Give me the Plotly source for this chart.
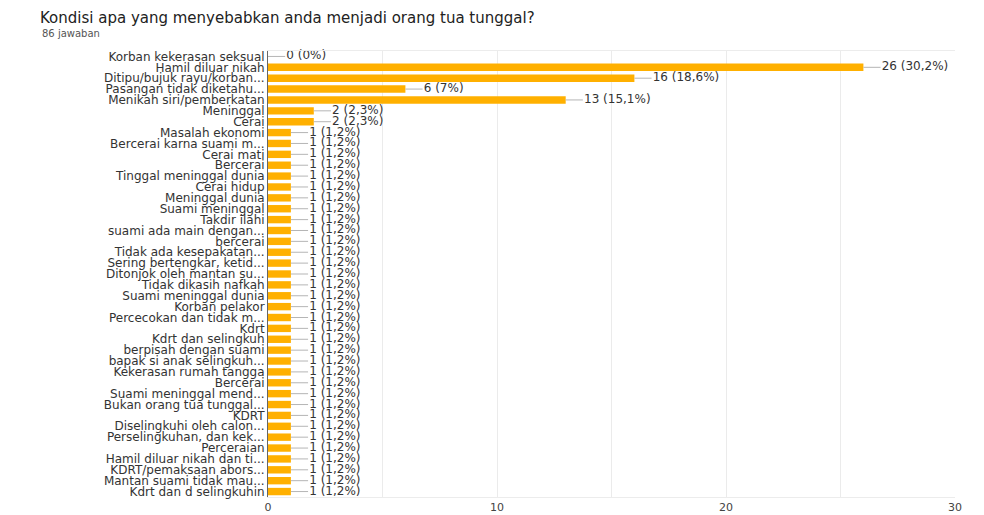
import plotly.graph_objects as go

title = "Kondisi apa yang menyebabkan anda menjadi orang tua tunggal?"
subtitle = "86 jawaban"
total_responses = 86

categories = [
    "Korban kekerasan seksual", "Hamil diluar nikah", "Ditipu/bujuk rayu/korban...",
    "Pasangan tidak diketahu...", "Menikah siri/pemberkatan", "Meninggal", "Cerai",
    "Masalah ekonomi", "Bercerai karna suami m...", "Cerai mati", "Bercerai",
    "Tinggal meninggal dunia", "Cerai hidup", "Meninggal dunia", "Suami meninggal",
    "Takdir ilahi", "suami ada main dengan...", "bercerai", "Tidak ada kesepakatan...",
    "Sering bertengkar, ketid...", "Ditonjok oleh mantan su...", "Tidak dikasih nafkah",
    "Suami meninggal dunia", "Korban pelakor", "Percecokan dan tidak m...", "Kdrt",
    "Kdrt dan selingkuh", "berpisah dengan suami", "bapak si anak selingkuh...",
    "Kekerasan rumah tangga", "Bercerai", "Suami meninggal mend...",
    "Bukan orang tua tunggal...", "KDRT", "Diselingkuhi oleh calon...",
    "Perselingkuhan, dan kek...", "Perceraian", "Hamil diluar nikah dan ti...",
    "KDRT/pemaksaan abors...", "Mantan suami tidak mau...", "Kdrt dan d selingkuhin",
]
values = [0, 26, 16, 6, 13, 2, 2] + [1] * 34
x_ticks = [0, 10, 20, 30]


def fmt_pct(v):
    p = round(v / total_responses * 100, 1)
    s = ("%.1f" % p).rstrip("0").rstrip(".")
    return s.replace(".", ",")


labels = [f"{v} ({fmt_pct(v)}%)" for v in values]
idx = list(range(len(categories)))

# page body has an 8px default margin, so the figure is sized to fit the window
OFF = 8
W, H = 984 - OFF, 515 - OFF
ml = 268 - OFF
mr = W - (955 - OFF)
mt = 51 - OFF
mb = H - (497 - OFF)
font_family = "DejaVu Sans, Arial, sans-serif"
bar_color = "#FFB000"

fig = go.Figure()
fig.add_trace(go.Bar(
    x=values, y=idx, orientation="h", marker=dict(color=bar_color, line=dict(width=0)),
    width=0.68, hoverinfo="skip", showlegend=False,
))

# connector lines from bar end to label
lx, ly = [], []
for v, i in zip(values, idx):
    lx += [v, v + 0.75, None]
    ly += [i, i, None]
fig.add_trace(go.Scatter(
    x=lx, y=ly, mode="lines", line=dict(color="#b5b5b5", width=1),
    hoverinfo="skip", showlegend=False,
))
fig.add_trace(go.Scatter(
    x=[v + 0.8 for v in values], y=idx, mode="text", text=labels,
    textposition="middle right",
    textfont=dict(family=font_family, size=12, color="#333333"),
    hoverinfo="skip", showlegend=False, cliponaxis=False,
))

plot_w = W - ml - mr
plot_h = H - mt - mb
fig.update_layout(
    width=W, height=H,
    margin=dict(l=ml, r=mr, t=mt, b=mb, autoexpand=False),
    paper_bgcolor="white", plot_bgcolor="white",
    font=dict(family=font_family, size=12, color="#333333"),
    title=dict(
        text=title, x=(40 - OFF) / W, xanchor="left", xref="container",
        y=1 - (18 - OFF) / H, yanchor="middle", yref="container",
        font=dict(family=font_family, size=15, color="#222222"),
    ),
    bargap=0.3,
    xaxis=dict(
        range=[0, 30], tickvals=x_ticks, ticktext=[str(t) for t in x_ticks],
        showgrid=True, gridcolor="#ebebeb", gridwidth=1,
        minor=dict(dtick=5, showgrid=True, gridcolor="#ebebeb"),
        zeroline=False, showline=True, linecolor="#ececec", mirror=True,
        tickfont=dict(family=font_family, size=11, color="#444444"),
        ticks="", fixedrange=True,
    ),
    yaxis=dict(
        range=[len(categories) - 0.5, -0.5], tickvals=idx, ticktext=categories,
        showgrid=False, zeroline=False, showline=True, linecolor="#666666",
        tickfont=dict(family=font_family, size=12, color="#333333"),
        ticks="", fixedrange=True,
    ),
    annotations=[dict(
        text=subtitle, xref="paper", yref="paper",
        x=(40 - 268) / plot_w, xanchor="left",
        y=1 + (51 - 33) / plot_h, yanchor="middle",
        showarrow=False, font=dict(family=font_family, size=10, color="#555555"),
    )],
)

fig.write_html("out.html")
